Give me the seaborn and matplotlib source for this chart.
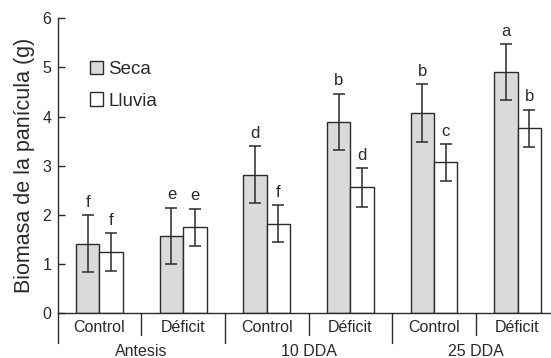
import matplotlib
matplotlib.use("Agg")
import matplotlib.pyplot as plt
import seaborn as sns
import pandas as pd
from matplotlib.patches import Patch

# Panicle biomass by sampling time, water regime and season
periods = ["Antesis", "10 DDA", "25 DDA"]
treatments = ["Control", "Déficit"]
seasons = ["Seca", "Lluvia"]

seca_mean = [1.41, 1.58, 2.82, 3.90, 4.07, 4.90]
seca_err = [0.58, 0.57, 0.58, 0.57, 0.59, 0.57]
seca_letters = ["f", "e", "d", "b", "b", "a"]

lluvia_mean = [1.24, 1.75, 1.82, 2.56, 3.07, 3.76]
lluvia_err = [0.39, 0.38, 0.38, 0.39, 0.37, 0.38]
lluvia_letters = ["f", "e", "f", "d", "c", "b"]

groups = [f"{p} | {t}" for p in periods for t in treatments]

df = pd.DataFrame({
    "grupo": groups * 2,
    "estacion": ["Seca"] * len(groups) + ["Lluvia"] * len(groups),
    "biomasa": seca_mean + lluvia_mean,
    "err": seca_err + lluvia_err,
    "letra": seca_letters + lluvia_letters,
})

sns.set_style("ticks")
plt.rcParams["font.family"] = ["Liberation Sans", "DejaVu Sans"]
ink = "#2b2b2b"

fig = plt.figure(figsize=(5.51, 3.58), dpi=100)
ax = fig.add_axes([0.1047, 0.1249, 0.8953, 0.8240])

sns.barplot(data=df, x="grupo", y="biomasa", hue="estacion", order=groups,
            hue_order=seasons, palette={"Seca": "#dadada", "Lluvia": "#ffffff"},
            width=0.56, errorbar=None, edgecolor=ink, linewidth=1.0,
            saturation=1, ax=ax, legend=False)

# error bars and significance letters on top of each bar
for cont, season in zip(ax.containers, seasons):
    sub = df[df["estacion"] == season].set_index("grupo").loc[groups]
    xs = [b.get_x() + b.get_width() / 2 for b in cont]
    ax.errorbar(xs, sub["biomasa"], yerr=sub["err"], fmt="none",
                ecolor=ink, elinewidth=1.1, capsize=4.5, capthick=1.1, zorder=3)
    for x, m, e, lab in zip(xs, sub["biomasa"], sub["err"], sub["letra"]):
        ax.annotate(lab, (x, m + e), xytext=(0, 4), textcoords="offset points",
                    ha="center", va="bottom", fontsize=12, color=ink)

ax.set_ylim(0, 6)
ax.set_xlim(-0.5, 5.4)
ax.set_yticks(range(0, 7))
ax.tick_params(axis="y", direction="in", length=5, width=1, color=ink,
               labelsize=11.5, labelcolor=ink, pad=4.5)
ax.set_xticks(range(len(groups)))
ax.set_xticklabels([t for p in periods for t in treatments])
ax.tick_params(axis="x", length=0, labelsize=11.5, labelcolor=ink, pad=5)
ax.set_xlabel("")
ax.set_ylabel("Biomasa de la panícula (g)", fontsize=15.5, color=ink, labelpad=5)

sns.despine(ax=ax, top=True, right=True)
for side in ("left", "bottom"):
    ax.spines[side].set_color(ink)
    ax.spines[side].set_linewidth(1.0)

# separators under the axis: short between treatments, long between periods
trans = ax.get_xaxis_transform()
for i in range(len(groups)):
    xsep = i - 0.5
    depth = -0.102 if i % 2 == 0 else -0.075
    ax.plot([xsep, xsep], [0, depth], transform=trans, color=ink,
            lw=1.0, clip_on=False)

for k, p in enumerate(periods):
    ax.text(2 * k + 0.5, -0.128, p, transform=trans, ha="center", va="center",
            fontsize=11.5, color=ink)

handles = [Patch(facecolor="#dadada", edgecolor=ink, label="Seca"),
           Patch(facecolor="#ffffff", edgecolor=ink, label="Lluvia")]
leg = ax.legend(handles=handles, loc="upper left", bbox_to_anchor=(0.05, 0.88),
                frameon=False, fontsize=13.5, handlelength=0.7, handleheight=0.7,
                handletextpad=0.3, labelspacing=0.75, borderaxespad=0)
for t in leg.get_texts():
    t.set_color(ink)

fig.savefig("out.png", dpi=100)
